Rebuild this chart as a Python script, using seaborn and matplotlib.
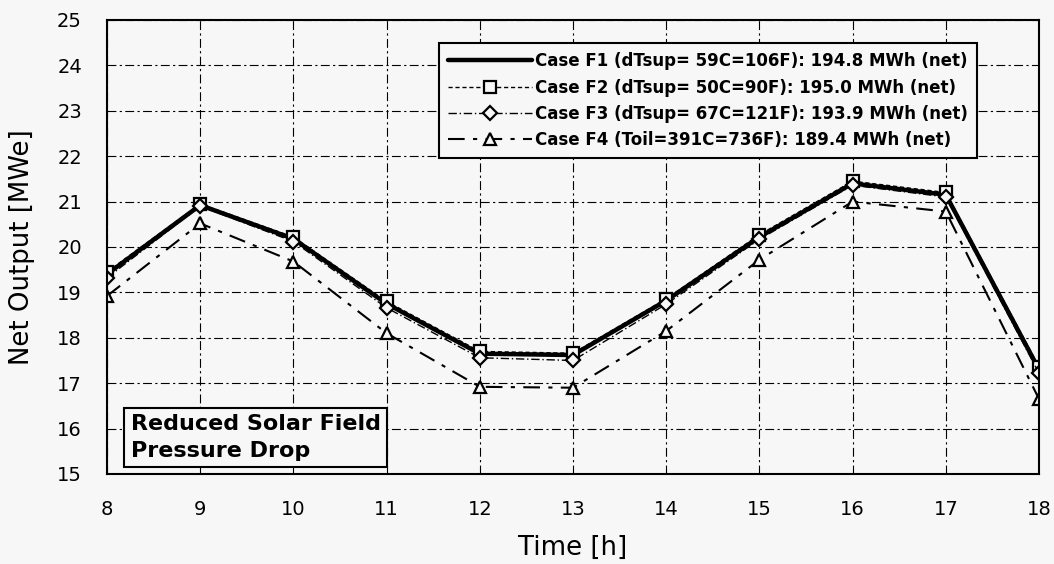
import numpy as np
import pandas as pd
import matplotlib
matplotlib.use("Agg")
import matplotlib.pyplot as plt
import seaborn as sns

hours = [8, 9, 10, 11, 12, 13, 14, 15, 16, 17, 18]
f1 = [19.40, 20.92, 20.18, 18.75, 17.65, 17.62, 18.82, 20.22, 21.40, 21.15, 17.30]
f2 = [19.45, 20.95, 20.22, 18.80, 17.70, 17.66, 18.86, 20.27, 21.45, 21.20, 17.36]
f3 = [19.32, 20.90, 20.12, 18.66, 17.56, 17.50, 18.74, 20.17, 21.36, 21.10, 17.22]
f4 = [18.92, 20.52, 19.68, 18.10, 16.92, 16.90, 18.15, 19.72, 21.00, 20.78, 16.65]
labels = ["Case F1 (dTsup= 59C=106F): 194.8 MWh (net)",
          "Case F2 (dTsup= 50C=90F): 195.0 MWh (net)",
          "Case F3 (dTsup= 67C=121F): 193.9 MWh (net)",
          "Case F4 (Toil=391C=736F): 189.4 MWh (net)"]
yticks = list(range(15, 26))
xticks = hours

sns.set_theme(style="white")
plt.rcParams['font.family'] = ['DejaVu Sans']
plt.rcParams.update({'text.color': 'black', 'axes.labelcolor': 'black',
                     'xtick.color': 'black', 'ytick.color': 'black'})
bg = '#f7f7f7'

fig = plt.figure(figsize=(10.54, 5.64), dpi=100, facecolor=bg)
ax = fig.add_axes([0.1015, 0.1596, 0.8843, 0.805])
ax.set_facecolor(bg)

styles = [
    dict(lw=3.2, ls='-', marker=None),
    dict(lw=1.0, ls=(0, (3, 2)), marker='s'),
    dict(lw=1.0, ls=(0, (6, 2, 1, 2)), marker='D'),
    dict(lw=1.5, ls=(0, (8, 4, 2, 4)), marker='^'),
]
for vals, lab, st in zip([f1, f2, f3, f4], labels, styles):
    df = pd.DataFrame({"Time": hours, "Output": vals})
    kw = {}
    if st['marker']:
        kw = dict(marker=st['marker'], markersize=9 if st['marker'] != 'D' else 7,
                  markerfacecolor=bg, markeredgecolor='black', markeredgewidth=1.6)
    sns.lineplot(data=df, x="Time", y="Output", ax=ax, color='black',
                 linewidth=st['lw'], linestyle=st['ls'], label=lab, **kw)

ax.set_xlim(8, 18)
ax.set_ylim(15, 25)
ax.set_xticks(xticks)
ax.set_yticks(yticks)
ax.tick_params(axis='x', labelsize=14, length=10, width=1.2, direction='inout',
               color='black', labelcolor='black', pad=14)
ax.tick_params(axis='y', labelsize=14, length=8, width=1.2, direction='out',
               color='black', labelcolor='black', pad=10)
ax.grid(True, color='black', linestyle=(0, (8, 3, 2, 3)), linewidth=0.8)
for sp in ax.spines.values():
    sp.set_visible(True)
    sp.set_color('black')
    sp.set_linewidth(1.5)
ax.set_xlabel("Time [h]", fontsize=18.7, labelpad=11, color='black')
ax.set_ylabel("Net Output [MWe]", fontsize=18.7, labelpad=16, color='black')

leg = ax.legend(loc='upper right', bbox_to_anchor=(0.9335, 0.949),
                prop=dict(size=12, weight='bold'),
                frameon=True, fancybox=False, framealpha=1, edgecolor='black',
                facecolor=bg, handlelength=5.0, handletextpad=0.2,
                labelspacing=0.5, borderpad=0.55, borderaxespad=0.0)
leg.get_frame().set_linewidth(1.5)
for t in leg.get_texts():
    t.set_color('black')

ax.text(0.0255, 0.029, "Reduced Solar Field\nPressure Drop", transform=ax.transAxes,
        fontsize=16, fontweight='bold', va='bottom', ha='left', linespacing=1.4,
        color='black',
        bbox=dict(boxstyle='square,pad=0.3', facecolor=bg, edgecolor='black', linewidth=1.5))

fig.savefig("out.png", dpi=100, facecolor=bg)
